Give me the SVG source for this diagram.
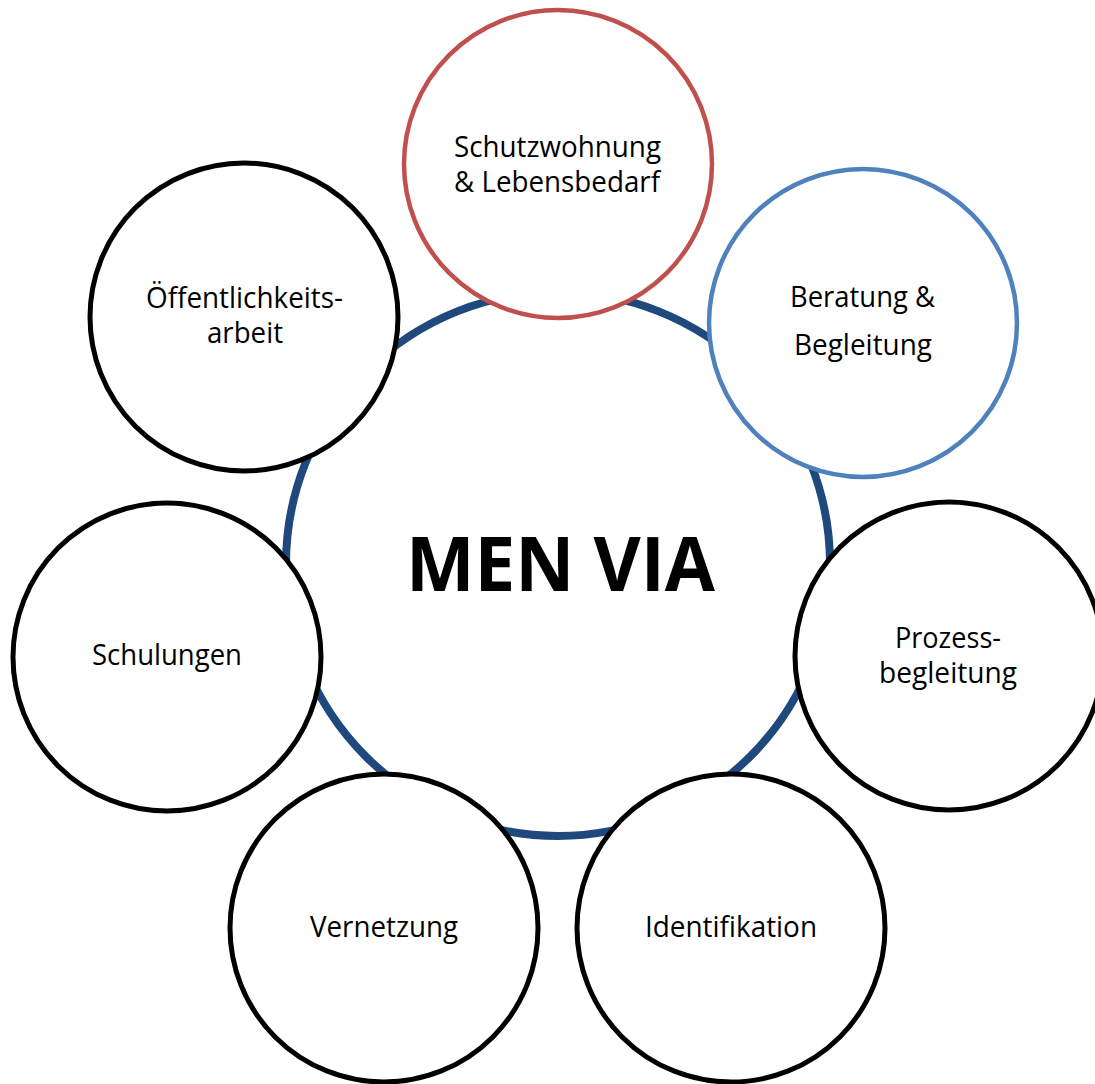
<svg xmlns="http://www.w3.org/2000/svg" width="1095" height="1084" viewBox="0 0 1095 1084">
<style>
.node{fill:#fff;stroke:#000;stroke-width:5}
.red{stroke:#C0504D;stroke-width:4.5}
.blue{stroke:#4F81BD;stroke-width:4.5}
.lbl{font-family:"Open Sans","Noto Sans","Liberation Sans",sans-serif;font-size:30px;fill:#000;text-anchor:start}
.title{font-family:"Open Sans","Noto Sans","Liberation Sans",sans-serif;font-size:76px;font-weight:bold;fill:#000}
</style>
<rect width="1095" height="1084" fill="#fff"/>
<g id="connectors">
<circle cx="558" cy="564" r="272" fill="none" stroke="#1F497D" stroke-width="8"/>
</g>
<g id="center">
<text class="title" x="406" y="591" textLength="309" lengthAdjust="spacingAndGlyphs">MEN VIA</text>
</g>
<g id="schutzwohnung">
<circle class="node red" cx="558" cy="164" r="154"/>
<text class="lbl" x="454" y="157" textLength="207" lengthAdjust="spacingAndGlyphs">Schutzwohnung</text>
<text class="lbl" x="454" y="192" textLength="206" lengthAdjust="spacingAndGlyphs">&amp; Lebensbedarf</text>
</g>
<g id="beratung">
<circle class="node blue" cx="863" cy="323" r="154"/>
<text class="lbl" x="790" y="307" textLength="145" lengthAdjust="spacingAndGlyphs">Beratung &amp;</text>
<text class="lbl" x="794" y="355" textLength="138" lengthAdjust="spacingAndGlyphs">Begleitung</text>
</g>
<g id="prozess">
<circle class="node" cx="949" cy="656" r="154"/>
<text class="lbl" x="895" y="648" textLength="106" lengthAdjust="spacingAndGlyphs">Prozess-</text>
<text class="lbl" x="879" y="683" textLength="138" lengthAdjust="spacingAndGlyphs">begleitung</text>
</g>
<g id="identifikation">
<circle class="node" cx="731" cy="928" r="154"/>
<text class="lbl" x="645" y="937" textLength="172" lengthAdjust="spacingAndGlyphs">Identifikation</text>
</g>
<g id="vernetzung">
<circle class="node" cx="384" cy="928" r="154"/>
<text class="lbl" x="310" y="937" textLength="148" lengthAdjust="spacingAndGlyphs">Vernetzung</text>
</g>
<g id="schulungen">
<circle class="node" cx="167" cy="657" r="154"/>
<text class="lbl" x="92" y="665" textLength="150" lengthAdjust="spacingAndGlyphs">Schulungen</text>
</g>
<g id="oeffentlichkeitsarbeit">
<circle class="node" cx="244" cy="317" r="154"/>
<text class="lbl" x="146" y="308" textLength="197" lengthAdjust="spacingAndGlyphs">Öffentlichkeits-</text>
<text class="lbl" x="207" y="343" textLength="76" lengthAdjust="spacingAndGlyphs">arbeit</text>
</g>
</svg>
